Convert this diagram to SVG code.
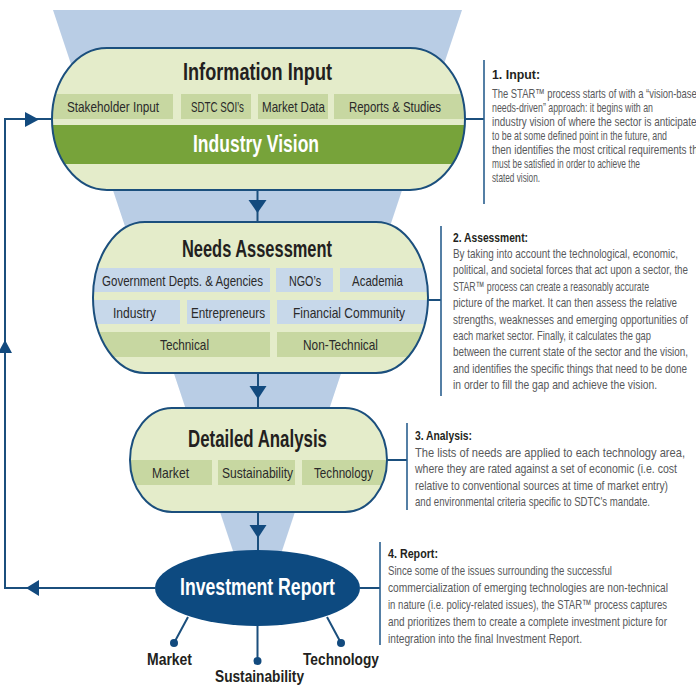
<svg xmlns="http://www.w3.org/2000/svg" width="696" height="693" viewBox="0 0 696 693">
<style>
.pill{fill:#e4ecca}
.pillo{fill:none;stroke:#1b4f7d;stroke-width:2}
.gbox{fill:#c7d7a1}
.bbox{fill:#c7d8ea}
.band{fill:#77a33a}
.ttl{font-family:"Liberation Sans",Arial,sans-serif;font-weight:bold;font-size:24px;fill:#231f20}
.wt{font-family:"Liberation Sans",Arial,sans-serif;font-weight:bold;font-size:24px;fill:#ffffff}
.lbl{font-family:"Liberation Sans",Arial,sans-serif;font-size:14.5px;fill:#2a2a2a}
.out{font-family:"Liberation Sans",Arial,sans-serif;font-weight:bold;font-size:17px;fill:#231f20}
.h{font-family:"Liberation Sans",Arial,sans-serif;font-weight:bold;font-size:13.5px;fill:#231f20}
.b1{font-family:"Liberation Sans",Arial,sans-serif;font-size:13px;fill:#58595b}
.b{font-family:"Liberation Sans",Arial,sans-serif;font-size:13.5px;fill:#58595b}
.ln{fill:none;stroke:#1b4f7d;stroke-width:2}
.br{fill:none;stroke:#2a5f8f;stroke-width:1.6}
.ah{fill:#124a7e}
</style>
<defs>
<clipPath id="c1"><rect x="52" y="48" width="413" height="142" rx="55" ry="71"/></clipPath>
<clipPath id="c2"><rect x="93" y="222" width="335" height="151" rx="52" ry="75.5"/></clipPath>
<clipPath id="c3"><rect x="130" y="408" width="257" height="104" rx="42" ry="52"/></clipPath>
</defs>

<polygon id="funnel" points="53,10 462,10 264,605 251,605" fill="#b9cde5"/>

<g id="connectors">
<path class="ln" d="M257.5,190 V222"/>
<polygon class="ah" points="248.5,200 266.5,200 257.5,213"/>
<path class="ln" d="M258,373 V408"/>
<polygon class="ah" points="249.5,386 266.5,386 258,399"/>
<path class="ln" d="M258,512 V550"/>
<polygon class="ah" points="249.5,525 266.5,525 258,538"/>
<path class="ln" d="M155,588 H5 V119 H52"/>
<polygon class="ah" points="25,112 25,127 39,119.5"/>
<polygon class="ah" points="39,580 39,596 26,588"/>
<polygon class="ah" points="-2,353 12,353 5,340"/>
<path class="ln" d="M465,119 H484"/>
<path class="br" d="M484,60 V204"/>
<path class="ln" d="M428,300 H441"/>
<path class="br" d="M441,226 V396"/>
<path class="ln" d="M387,460 H407"/>
<path class="br" d="M407,423 V510"/>
<path class="ln" d="M360,588 H380"/>
<path class="br" d="M380,542 V645"/>
<path class="ln" d="M188,617 L174,643 M257.5,626 V661 M327,617 L341,643"/>
<circle class="ah" cx="174" cy="643" r="4"/>
<circle class="ah" cx="257.5" cy="661" r="4"/>
<circle class="ah" cx="341" cy="643" r="4"/>
</g>

<g id="information-input">
<rect class="pill" x="52" y="48" width="413" height="142" rx="55" ry="71"/>
<g clip-path="url(#c1)">
<rect class="gbox" x="40" y="94" width="133" height="25"/>
<rect class="gbox" x="181" y="94" width="70" height="25"/>
<rect class="gbox" x="258" y="94" width="70" height="25"/>
<rect class="gbox" x="334" y="94" width="140" height="25"/>
<rect class="band" x="40" y="125" width="440" height="39"/>
</g>
<rect class="pillo" x="52" y="48" width="413" height="142" rx="55" ry="71"/>
<text class="ttl" x="183" y="80" textLength="149" lengthAdjust="spacingAndGlyphs">Information Input</text>
<text class="lbl" x="67" y="112" textLength="92" lengthAdjust="spacingAndGlyphs">Stakeholder Input</text>
<text class="lbl" x="191" y="112" textLength="53" lengthAdjust="spacingAndGlyphs">SDTC SOI’s</text>
<text class="lbl" x="262" y="112" textLength="63" lengthAdjust="spacingAndGlyphs">Market Data</text>
<text class="lbl" x="349" y="112" textLength="92" lengthAdjust="spacingAndGlyphs">Reports &amp; Studies</text>
<text class="wt" x="193" y="152" textLength="126" lengthAdjust="spacingAndGlyphs">Industry Vision</text>
</g>

<g id="needs-assessment">
<rect class="pill" x="93" y="222" width="335" height="151" rx="52" ry="75.5"/>
<g clip-path="url(#c2)">
<rect class="bbox" x="80" y="268" width="190" height="24"/>
<rect class="bbox" x="276" y="268" width="57" height="24"/>
<rect class="bbox" x="340" y="268" width="100" height="24"/>
<rect class="bbox" x="80" y="300" width="100" height="24"/>
<rect class="bbox" x="187" y="300" width="83" height="24"/>
<rect class="bbox" x="277" y="300" width="160" height="24"/>
<rect class="gbox" x="80" y="332" width="190" height="25"/>
<rect class="gbox" x="277" y="332" width="160" height="25"/>
</g>
<rect class="pillo" x="93" y="222" width="335" height="151" rx="52" ry="75.5"/>
<text class="ttl" x="182" y="257" textLength="150" lengthAdjust="spacingAndGlyphs">Needs Assessment</text>
<text class="lbl" x="102" y="286" textLength="161" lengthAdjust="spacingAndGlyphs">Government Depts. &amp; Agencies</text>
<text class="lbl" x="289" y="286" textLength="32" lengthAdjust="spacingAndGlyphs">NGO’s</text>
<text class="lbl" x="352" y="286" textLength="51" lengthAdjust="spacingAndGlyphs">Academia</text>
<text class="lbl" x="113" y="318" textLength="43" lengthAdjust="spacingAndGlyphs">Industry</text>
<text class="lbl" x="191" y="318" textLength="74" lengthAdjust="spacingAndGlyphs">Entrepreneurs</text>
<text class="lbl" x="293" y="318" textLength="112" lengthAdjust="spacingAndGlyphs">Financial Community</text>
<text class="lbl" x="160" y="350" textLength="49" lengthAdjust="spacingAndGlyphs">Technical</text>
<text class="lbl" x="303" y="350" textLength="75" lengthAdjust="spacingAndGlyphs">Non-Technical</text>
</g>

<g id="detailed-analysis">
<rect class="pill" x="130" y="408" width="257" height="104" rx="42" ry="52"/>
<g clip-path="url(#c3)">
<rect class="gbox" x="120" y="460" width="92" height="25"/>
<rect class="gbox" x="218" y="460" width="77" height="25"/>
<rect class="gbox" x="302" y="460" width="95" height="25"/>
</g>
<rect class="pillo" x="130" y="408" width="257" height="104" rx="42" ry="52"/>
<text class="ttl" x="188" y="447" textLength="139" lengthAdjust="spacingAndGlyphs">Detailed Analysis</text>
<text class="lbl" x="152" y="478" textLength="37" lengthAdjust="spacingAndGlyphs">Market</text>
<text class="lbl" x="222" y="478" textLength="71" lengthAdjust="spacingAndGlyphs">Sustainability</text>
<text class="lbl" x="314" y="478" textLength="59" lengthAdjust="spacingAndGlyphs">Technology</text>
</g>

<g id="investment-report">
<ellipse cx="257.5" cy="588" rx="102.5" ry="38" fill="#0d4a80"/>
<text class="wt" x="180" y="595" textLength="155" lengthAdjust="spacingAndGlyphs">Investment Report</text>
</g>

<g id="outputs">
<text class="out" x="147" y="665" textLength="45" lengthAdjust="spacingAndGlyphs">Market</text>
<text class="out" x="215" y="682" textLength="89" lengthAdjust="spacingAndGlyphs">Sustainability</text>
<text class="out" x="303" y="665" textLength="76" lengthAdjust="spacingAndGlyphs">Technology</text>
</g>

<g id="note-input">
<text class="h" x="492" y="79" textLength="48" lengthAdjust="spacingAndGlyphs">1. Input:</text>
<text class="b1" x="492" y="97.5" textLength="210" lengthAdjust="spacingAndGlyphs">The STAR™ process starts of with a “vision-based</text>
<text class="b1" x="492" y="111.5" textLength="161" lengthAdjust="spacingAndGlyphs">needs-driven” approach: it begins with an</text>
<text class="b1" x="492" y="125.5" textLength="210" lengthAdjust="spacingAndGlyphs">industry vision of where the sector is anticipated</text>
<text class="b1" x="492" y="139.5" textLength="175" lengthAdjust="spacingAndGlyphs">to be at some defined point in the future, and</text>
<text class="b1" x="492" y="153.5" textLength="214" lengthAdjust="spacingAndGlyphs">then identifies the most critical requirements that</text>
<text class="b1" x="492" y="167.5" textLength="148" lengthAdjust="spacingAndGlyphs">must be satisfied in order to achieve the</text>
<text class="b1" x="492" y="181.5" textLength="48" lengthAdjust="spacingAndGlyphs">stated vision.</text>
</g>

<g id="note-assessment">
<text class="h" x="453" y="242" textLength="75" lengthAdjust="spacingAndGlyphs">2. Assessment:</text>
<text class="b" x="453" y="258" textLength="225" lengthAdjust="spacingAndGlyphs">By taking into account the technological, economic,</text>
<text class="b" x="453" y="274.4" textLength="235" lengthAdjust="spacingAndGlyphs">political, and societal forces that act upon a sector, the</text>
<text class="b" x="453" y="290.8" textLength="196" lengthAdjust="spacingAndGlyphs">STAR™ process can create a reasonably accurate</text>
<text class="b" x="453" y="307.2" textLength="224" lengthAdjust="spacingAndGlyphs">picture of the market. It can then assess the relative</text>
<text class="b" x="453" y="323.6" textLength="235" lengthAdjust="spacingAndGlyphs">strengths, weaknesses and emerging opportunities of</text>
<text class="b" x="453" y="340" textLength="198" lengthAdjust="spacingAndGlyphs">each market sector. Finally, it calculates the gap</text>
<text class="b" x="453" y="356.4" textLength="235" lengthAdjust="spacingAndGlyphs">between the current state of the sector and the vision,</text>
<text class="b" x="453" y="372.8" textLength="234" lengthAdjust="spacingAndGlyphs">and identifies the specific things that need to be done</text>
<text class="b" x="453" y="389.2" textLength="204" lengthAdjust="spacingAndGlyphs">in order to fill the gap and achieve the vision.</text>
</g>

<g id="note-analysis">
<text class="h" x="415" y="440" textLength="57" lengthAdjust="spacingAndGlyphs">3. Analysis:</text>
<text class="b" x="415" y="456.5" textLength="270" lengthAdjust="spacingAndGlyphs">The lists of needs are applied to each technology area,</text>
<text class="b" x="415" y="473" textLength="262" lengthAdjust="spacingAndGlyphs">where they are rated against a set of economic (i.e. cost</text>
<text class="b" x="415" y="489.5" textLength="253" lengthAdjust="spacingAndGlyphs">relative to conventional sources at time of market entry)</text>
<text class="b" x="415" y="506" textLength="235" lengthAdjust="spacingAndGlyphs">and environmental criteria specific to SDTC's mandate.</text>
</g>

<g id="note-report">
<text class="h" x="388" y="558" textLength="50" lengthAdjust="spacingAndGlyphs">4. Report:</text>
<text class="b" x="388" y="575" textLength="224" lengthAdjust="spacingAndGlyphs">Since some of the issues surrounding the successful</text>
<text class="b" x="388" y="592" textLength="280" lengthAdjust="spacingAndGlyphs">commercialization of emerging technologies are non-technical</text>
<text class="b" x="388" y="609" textLength="279" lengthAdjust="spacingAndGlyphs">in nature (i.e. policy-related issues), the STAR™ process captures</text>
<text class="b" x="388" y="626" textLength="279" lengthAdjust="spacingAndGlyphs">and prioritizes them to create a complete investment picture for</text>
<text class="b" x="388" y="643" textLength="194" lengthAdjust="spacingAndGlyphs">integration into the final Investment Report.</text>
</g>
</svg>
